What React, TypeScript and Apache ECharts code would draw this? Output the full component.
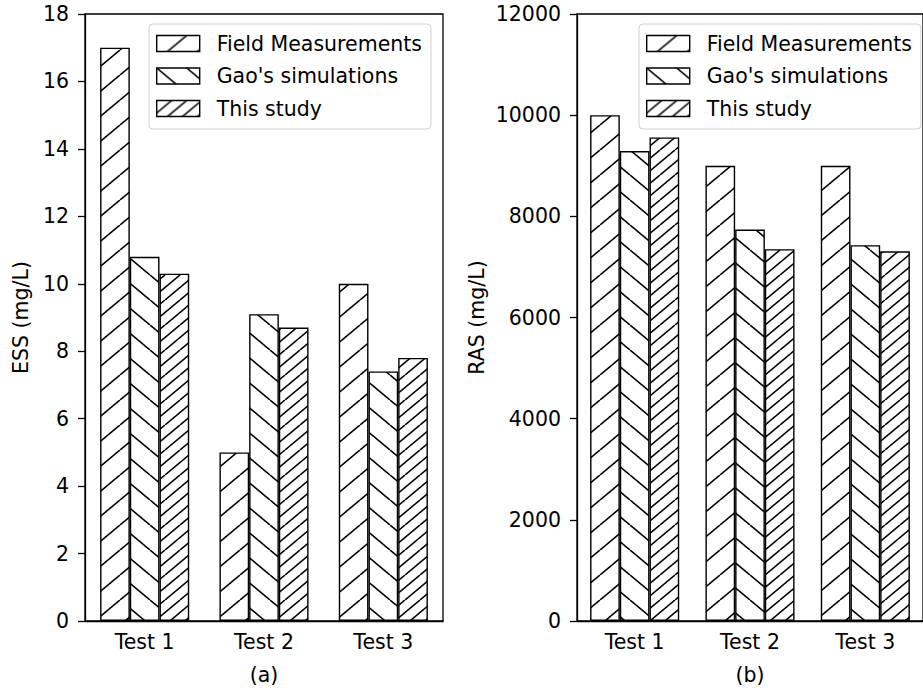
import React, { useEffect, useRef } from "react";
import * as echarts from "echarts";

// Test cases on the category axis
const categories = ["Test 1", "Test 2", "Test 3"];
const seriesNames = ["Field Measurements", "Gao's simulations", "This study"];

// (a) effluent suspended solids, mg/L
const essField = [17, 5.0, 10];
const essGao = [10.8, 9.1, 7.4];
const essThis = [10.3, 8.7, 7.8];

// (b) return activated sludge, mg/L
const rasField = [10000, 9000, 9000];
const rasGao = [9290, 7740, 7430];
const rasThis = [9560, 7350, 7310];

const FONT = "DejaVu Sans";

type Hatch = "fwd" | "back" | "fwd2";

// Builds a repeating hatch tile: "/" , "\" or a denser "//"
function hatchTile(kind: Hatch): HTMLCanvasElement {
  const W = 30;
  const H = 25;
  const c = document.createElement("canvas");
  c.width = W;
  c.height = H;
  const g = c.getContext("2d")!;
  g.fillStyle = "#ffffff";
  g.fillRect(0, 0, W, H);
  g.strokeStyle = "#000000";
  g.lineWidth = 1.6;
  const offsets = kind === "fwd2" ? [-W, -W / 2, 0, W / 2, W] : [-W, 0, W];
  for (const o of offsets) {
    g.beginPath();
    if (kind === "back") {
      g.moveTo(o, 0);
      g.lineTo(o + W, H);
    } else {
      g.moveTo(o, H);
      g.lineTo(o + W, 0);
    }
    g.stroke();
  }
  return c;
}

export default function App() {
  const ref = useRef<HTMLDivElement>(null);

  useEffect(() => {
    if (!ref.current) return;
    const chart = echarts.init(ref.current, null, { renderer: "svg" });

    const hatches: Hatch[] = ["fwd", "back", "fwd2"];
    const patterns = hatches.map((h) => ({ image: hatchTile(h), repeat: "repeat" as const }));

    const textBase = { fontFamily: FONT, fontSize: 20.5, color: "#000" };

    const grids = [
      { left: 85, top: 14, width: 358, height: 609 },
      { left: 577, top: 14, width: 358, height: 609 },
    ].map((g) => ({
      ...g,
      show: true,
      borderColor: "#000",
      borderWidth: 1.3,
      backgroundColor: "transparent",
    }));

    const xAxes = ["(a)", "(b)"].map((name, i) => ({
      type: "category" as const,
      gridIndex: i,
      data: categories,
      name,
      nameLocation: "middle" as const,
      nameGap: 43,
      nameMoveOverlap: false,
      nameTextStyle: { ...textBase },
      axisLine: { lineStyle: { color: "#000", width: 1.3 } },
      axisTick: { alignWithLabel: true, length: 7, lineStyle: { color: "#000", width: 1.3 } },
      axisLabel: { ...textBase, margin: 10 },
    }));

    const yAxes = [
      { name: "ESS (mg/L)", max: 18, interval: 2, nameGap: 54 },
      { name: "RAS (mg/L)", max: 12000, interval: 2000, nameGap: 90 },
    ].map((a, i) => ({
      type: "value" as const,
      gridIndex: i,
      min: 0,
      max: a.max,
      interval: a.interval,
      name: a.name,
      nameLocation: "middle" as const,
      nameGap: a.nameGap,
      nameMoveOverlap: false,
      nameTextStyle: { ...textBase },
      axisLine: { show: true, lineStyle: { color: "#000", width: 1.3 } },
      axisTick: { show: true, length: 7, lineStyle: { color: "#000", width: 1.3 } },
      axisLabel: { ...textBase, margin: 16, formatter: (v: number) => String(v) },
      splitLine: { show: false },
    }));

    const groups = [
      [essField, essGao, essThis],
      [rasField, rasGao, rasThis],
    ];

    const series: any[] = [];
    groups.forEach((vals, gi) => {
      vals.forEach((data, si) => {
        series.push({
          type: "bar",
          name: seriesNames[si],
          xAxisIndex: gi,
          yAxisIndex: gi,
          data,
          barWidth: 29.7,
          barGap: "0%",
          itemStyle: {
            color: patterns[si],
            borderColor: "#000",
            borderWidth: 1.4,
          },
        });
      });
    });

    const legendAt = (left: number) => ({
      left,
      top: 24,
      orient: "vertical" as const,
      data: seriesNames,
      icon: "rect",
      itemWidth: 43,
      itemHeight: 16,
      itemGap: 11.5,
      padding: [9, 9, 10, 7],
      borderColor: "#d0d0d0",
      borderWidth: 1,
      borderRadius: 4,
      backgroundColor: "rgba(255,255,255,0.8)",
      selectedMode: false,
      textStyle: { ...textBase, lineHeight: 20, padding: [0, 0, 0, 12] },
      itemStyle: { borderColor: "#000", borderWidth: 1.4 },
    });

    chart.setOption({
      animation: false,
      backgroundColor: "#fff",
      textStyle: { fontFamily: FONT },
      grid: grids,
      xAxis: xAxes,
      yAxis: yAxes,
      legend: [legendAt(149), legendAt(639)],
      series,
    });

    return () => chart.dispose();
  }, []);

  return (
    <div
      ref={ref}
      style={{ position: "absolute", left: 0, top: 0, width: 923, height: 690 }}
    />
  );
}
